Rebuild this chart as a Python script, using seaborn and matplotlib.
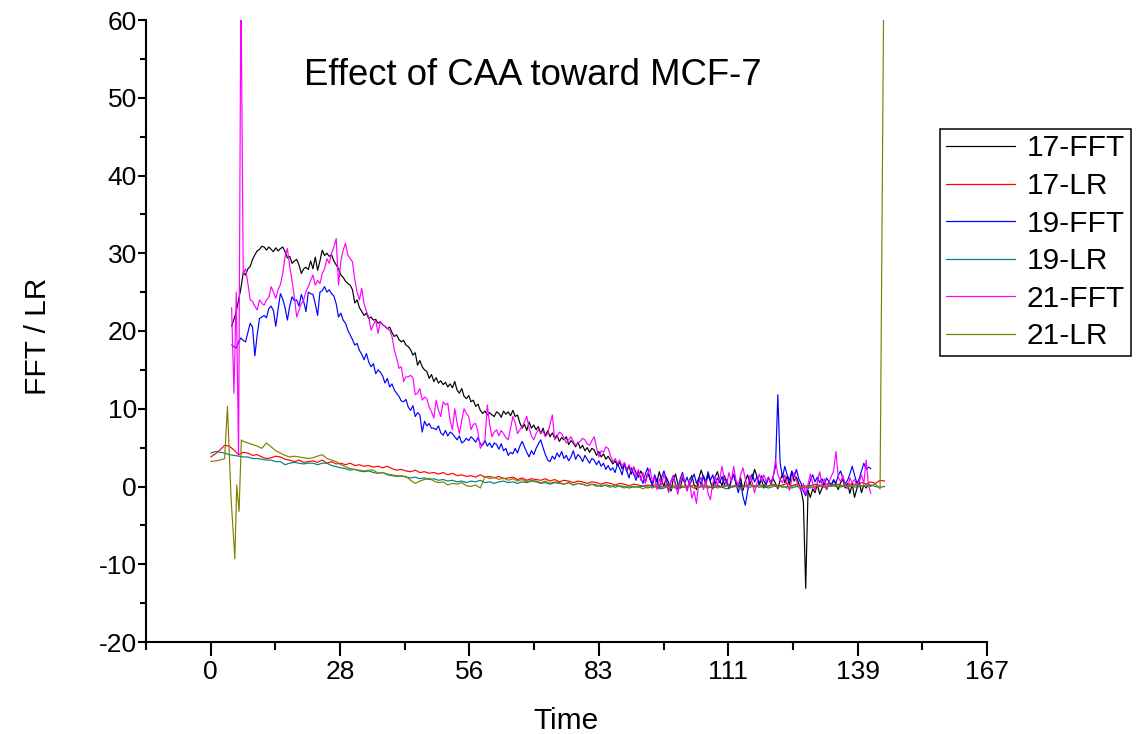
import numpy as np
import pandas as pd
import matplotlib
matplotlib.use("Agg")
import matplotlib.pyplot as plt
from matplotlib.lines import Line2D
import seaborn as sns

# ---------------- data ----------------
series_names = ["17-FFT", "17-LR", "19-FFT", "19-LR", "21-FFT", "21-LR"]
series_colors = ["#000000", "#FF0000", "#0000FF", "#008080", "#FF00FF", "#808000"]

# FFT series sampled every 0.5 time units, starting at 4.5
fft_start = 4.5
fft_step = 0.5

fft17 = [
    20.6, 21.5, 22.5, 24.0, 25.5, 27.5, 27.2, 28.0, 28.3, 29.2, 29.8, 30.3, 30.5, 30.9, 30.8, 30.4, 30.8, 30.5, 30.2, 30.7,
    30.3, 30.6, 30.8, 30.2, 29.4, 29.6, 28.7, 29.0, 29.2, 28.5, 27.4, 28.0, 28.2, 27.9, 29.0, 28.0, 29.5, 27.8, 29.0, 30.4,
    29.7, 30.0, 29.6, 29.8, 29.0, 28.5, 28.0, 27.2, 26.9, 26.4, 26.1, 25.9, 25.3, 23.6, 24.0, 23.0, 22.5, 22.0, 22.3, 21.6,
    21.8, 21.4, 21.5, 21.0, 21.2, 20.8, 20.6, 20.3, 20.5, 19.8, 19.3, 19.5, 18.9, 18.6, 18.8, 18.2, 18.0, 17.6, 16.9, 17.2,
    15.6, 16.2, 15.4, 15.0, 14.8, 13.9, 14.4, 13.5, 14.0, 13.3, 13.6, 13.1, 13.4, 12.8, 13.2, 12.7, 13.5, 12.4, 12.0, 12.6,
    11.6, 11.3, 11.7, 10.9, 11.1, 10.3, 10.6, 9.8, 9.4, 9.7, 9.2, 9.5, 9.2, 9.0, 9.6, 9.4, 8.9, 9.7, 9.3, 9.6,
    9.1, 9.8, 9.0, 9.2, 8.2, 7.5, 8.0, 7.2, 8.3, 7.5, 7.9, 7.3, 7.7, 6.8, 7.5, 6.5, 7.2, 6.4, 6.9, 6.2,
    6.6, 5.8, 6.3, 6.0, 6.4, 5.4, 5.9, 5.6, 5.1, 5.7, 4.9, 5.3, 4.6, 5.0, 4.4, 4.9, 4.7, 4.0, 4.5, 3.8,
    4.2, 3.5, 3.9, 3.4, 2.9, 3.3, 2.7, 3.1, 2.3, 2.8, 2.0, 2.6, 1.6, 2.5, 1.8, 1.2, 2.0, 1.4, 0.6, 1.7,
    1.0, 0.2, 1.3, 0.6, 1.9, 0.8, 0.0, 1.2, 0.5, -0.6, 0.9, 1.6, 0.3, -0.2, 1.1, 0.4, -0.5, 0.8, 1.4, 0.2,
    -0.4, 1.0, 2.1, 1.2, 0.3, 1.5, 0.6, -0.3, 1.2, 1.9, 0.8, 0.1, 1.4, 0.5, -0.2, 0.9, 1.6, 0.4, 0.0, 1.1,
    -0.5, 0.7, 1.5, 0.3, 1.0, 2.2, 1.3, 0.2, 0.9, -0.2, 0.6, 1.2, 0.3, 1.0, 0.4, -0.3, 0.8, 1.6, 0.5, 1.3,
    0.2, 1.9, 0.7, 1.2, 0.4, -0.5, -2.0, -13.1, -0.5, -1.4, -0.3, -0.8, 0.3, -1.0, -0.2, 0.5, -0.4, 0.6, 0.1, 0.8,
    0.3, -0.4, 0.5, 0.9, -0.2, 0.4, -0.9, 0.3, -1.4, -0.3, 0.6, -0.8, 0.2, -0.2, 0.3, 0.0,
]

fft19 = [
    18.2, 18.0, 17.8, 18.6, 19.1, 18.8, 18.6, 19.8, 21.0, 20.5, 16.8, 19.5, 21.6, 21.8, 22.0, 21.7, 22.9, 23.2, 22.6, 20.6,
    22.8, 24.8, 24.1, 23.0, 21.4, 23.2, 24.4, 23.9, 24.0, 23.2, 24.7, 23.8, 22.5, 25.0, 24.8, 24.7, 23.5, 22.0, 25.0, 25.2,
    25.7, 25.0, 25.3, 24.8, 24.5, 23.5, 21.8, 22.3, 21.4, 21.0, 20.1, 19.5, 18.9, 18.2, 18.4, 17.5, 17.0, 16.3, 17.1, 16.0,
    15.4, 15.8, 14.5, 15.0, 14.7, 14.2, 13.3, 13.9, 12.8, 13.2, 12.4, 12.0, 11.6, 11.0, 10.9, 11.2, 10.2, 9.8, 10.4, 9.0,
    9.5, 9.2, 7.0, 8.4, 7.8, 8.1, 7.5, 7.5, 7.3, 7.8, 6.9, 6.6, 7.2, 6.5, 7.0, 6.8, 6.4, 6.0, 6.5, 5.6,
    5.8, 6.2, 5.9, 6.4, 6.1, 5.7, 6.3, 5.5, 5.3, 5.9, 5.2, 5.6, 5.0, 5.6, 5.4, 4.8, 5.5, 4.6, 4.9, 4.0,
    4.4, 4.2, 4.9, 4.3, 5.2, 5.8, 5.1, 4.4, 3.8, 4.6, 4.1, 4.9, 5.5, 6.0, 5.0, 4.1, 3.4, 3.2, 3.9, 3.5,
    4.3, 3.8, 4.5, 3.6, 4.0, 3.3, 3.8, 4.6, 3.5, 4.1, 3.8, 3.2, 4.0, 3.5, 3.0, 3.6, 3.4, 2.8, 3.3, 2.6,
    3.0, 2.2, 2.7, 2.1, 2.4, 1.8, 2.9, 2.3, 1.5, 3.0, 2.0, 1.1, 2.4, 1.6, 0.8, 1.9, 1.2, 0.4, 1.6, 2.4,
    1.0, 0.2, 1.5, 0.7, -0.3, 1.2, 2.0, 0.9, -0.5, 0.6, 1.4, 0.3, -0.4, 1.0, 1.8, 0.5, 1.2, 0.1, 0.9, 1.6,
    0.4, 1.1, 0.2, 1.4, 0.6, 1.9, 0.8, 1.5, 0.3, 1.1, 0.5, 1.3, 0.2, 0.9, -0.3, 0.7, 1.5, 0.4, -0.8, 0.5,
    -1.3, -2.4, -0.6, 0.9, 1.6, 0.6, 1.2, 0.3, 1.4, 0.7, 0.2, 1.1, 0.5, 1.3, 2.5, 11.8, 3.0, 1.2, 2.6, 1.5,
    0.8, 2.0, 1.2, 2.2, 1.0, 0.4, -0.6, -1.2, -0.3, 0.8, 1.5, 0.6, 1.2, 0.5, 1.0, 0.3, 1.1, 0.6, 0.2, 0.9,
    0.4, 1.4, 2.0, 1.1, 0.3, 0.8, 1.6, 2.6, 1.5, 0.4, 1.0, 2.0, 3.0, 2.2, 2.5, 2.3,
]

fft21 = [
    23.0, 12.0, 25.0, 4.0, 65.0, 27.4, 28.0, 26.1, 24.0, 23.8, 23.2, 22.7, 24.0, 23.6, 23.3, 24.0, 24.3, 25.7, 25.0, 24.2,
    25.3, 26.0, 27.4, 29.6, 30.6, 28.3, 26.5, 24.4, 21.8, 22.7, 23.5, 24.0, 25.1, 25.7, 26.5, 27.2, 25.9, 26.5, 26.1, 27.4,
    28.0, 29.3, 28.7, 30.0, 30.8, 31.9, 25.9, 29.0, 30.4, 31.3, 29.8, 29.3, 28.9, 26.6, 25.0, 24.0, 25.5, 23.5, 22.5, 21.8,
    20.1, 20.8, 21.4, 19.7, 21.2, 20.8, 20.6, 20.3, 20.1, 19.3, 17.6, 16.5, 15.2, 15.4, 13.5, 14.1, 14.1, 14.3, 14.0, 11.8,
    12.0, 12.6, 11.1, 11.5, 11.3, 10.2, 9.6, 8.8, 11.1, 9.8, 9.0, 10.9, 10.5, 10.7, 8.5, 7.3, 10.0, 8.2, 6.8, 8.5,
    10.0, 9.4, 9.0, 7.3, 8.0, 8.1, 7.0, 4.9, 5.5, 6.0, 10.5, 8.0, 6.4, 7.0, 7.3, 6.5, 7.2, 6.8, 6.3, 6.0,
    7.5, 9.0, 8.2, 6.8, 7.3, 7.7, 8.3, 9.0, 7.5, 6.5, 6.0, 6.8, 7.3, 6.9, 7.1, 6.4, 6.8, 8.0, 9.2, 6.0,
    6.4, 7.0, 6.8, 6.2, 5.6, 6.0, 6.4, 5.8, 5.3, 5.6, 5.8, 6.2, 6.0, 5.5, 5.3, 5.9, 6.4, 5.0, 3.8, 4.6,
    4.4, 5.1, 4.9, 4.0, 3.2, 3.6, 3.0, 3.4, 2.6, 3.1, 2.2, 2.8, 1.9, 2.5, 1.3, 2.2, 0.8, 1.8, 0.4, 1.5,
    2.3, 0.6, 1.2, -0.4, 1.0, 0.2, 1.6, 0.5, -0.8, 0.7, 1.4, 0.1, -1.0, 0.6, 1.5, 0.3, -0.6, 0.8, -1.5, -0.6,
    -2.2, 0.5, 1.2, -0.4, 0.8, -0.9, -1.7, 0.4, 1.3, 0.2, 1.0, 2.6, 0.9, 0.3, 1.8, 0.6, 2.6, 0.8, 0.2, 1.5,
    2.4, 1.0, -0.3, 1.4, 0.5, -0.8, 0.4, 1.6, 0.7, 1.5, 0.6, 1.2, 0.4, 1.1, 3.4, 1.5, 0.9, 0.5, 1.5, 0.3,
    -0.5, 0.9, 1.8, 0.7, 0.0, -0.6, 0.4, -1.0, 0.3, 1.6, 0.4, -0.5, 0.6, 1.9, 0.2, 1.0, -0.4, 0.5, 1.3, 2.0,
    4.5, 1.2, 0.6, 1.4, 0.2, -0.3, 1.1, 0.5, 0.9, 0.0, 0.6, 1.5, 0.4, 3.4, 0.2, -0.9,
]

# LR series sampled every 1 time unit from 0
lr17 = [
    3.8, 4.2, 4.7, 5.3, 5.2, 4.7, 4.1, 4.4, 4.3, 4.0,
    4.1, 3.8, 3.6, 3.7, 3.9, 3.8, 3.5, 3.4, 3.2, 3.4,
    3.1, 3.2, 3.3, 3.1, 3.4, 3.0, 3.2, 2.9, 3.0, 2.8,
    3.0, 2.7, 2.8, 2.6, 2.7, 2.5, 2.6, 2.4, 2.6, 2.3,
    2.1, 2.2, 2.0, 1.9, 2.1, 1.8, 1.9, 1.7, 1.8, 1.6,
    1.8, 1.5, 1.7, 1.4, 1.5, 1.3, 1.4, 1.2, 1.5, 1.2,
    1.3, 1.1, 1.3, 1.0, 1.1, 1.2, 0.9, 1.1, 0.8, 1.0,
    0.9, 0.8, 1.0, 0.7, 0.9, 0.6, 0.8, 0.7, 0.5, 0.7,
    0.6, 0.4, 0.6, 0.5, 0.3, 0.5, 0.4, 0.2, 0.4, 0.3,
    0.1, 0.3, 0.2, 0.0, 0.2, 0.1, 0.3, -0.1, 0.2, 0.0,
    0.1, -0.2, 0.1, 0.0, 0.2, -0.1, 0.1, -0.2, 0.0, 0.2,
    -0.1, 0.1, 0.0, 0.2, -0.1, 0.1, 0.3, 0.0, 0.2, -0.1,
    0.1, 0.3, 0.0, 0.2, 0.4, 0.1, 0.3, 0.0, -0.2, 0.1,
    0.3, 0.0, 0.2, 0.4, 0.1, 0.3, 0.0, 0.2, 0.4, 0.1,
    0.5, 0.3, 0.6, 0.4, 0.8, 0.7,
]

lr19 = [
    4.3, 4.5, 4.4, 4.3, 4.1, 4.0, 3.9, 3.8, 3.8, 3.6,
    3.6, 3.5, 3.4, 3.4, 3.2, 3.2, 2.8, 3.0, 3.1, 3.0,
    2.9, 3.0, 3.0, 2.8, 3.0, 3.0, 2.7, 2.55, 2.4, 2.3,
    2.1, 2.2, 2.0, 1.9, 2.0, 1.8, 1.7, 1.8, 1.5, 1.4,
    1.3, 1.4, 1.2, 1.1, 1.2, 1.0, 1.1, 0.9, 1.0, 0.8,
    0.9, 0.7, 0.8, 0.6, 0.7, 0.5, 0.7, 0.6, 0.8, 0.5,
    0.6, 0.4, 0.6, 0.7, 0.5, 0.6, 0.4, 0.6, 0.5, 0.7,
    0.6, 0.4, 0.5, 0.3, 0.5, 0.4, 0.3, 0.5, 0.2, 0.4,
    0.3, 0.1, 0.3, 0.2, 0.0, 0.2, 0.1, -0.1, 0.1, 0.0,
    -0.2, 0.0, -0.1, 0.1, -0.2, 0.0, -0.1, -0.3, -0.1, 0.0,
    -0.2, 0.0, -0.1, 0.1, -0.2, 0.0, -0.1, 0.1, -0.2, 0.0,
    -0.1, -0.3, -0.1, 0.0, -0.2, 0.0, -0.1, 0.1, -0.1, 0.0,
    -0.2, 0.0, 0.1, -0.1, 0.0, -0.2, 0.0, -0.1, 0.1, -0.1,
    0.0, 0.2, -0.1, 0.0, 0.1, -0.1, 0.0, 0.2, 0.0, -0.1,
    0.1, 0.0, 0.2, 0.0, -0.1, 0.0,
]

# 21-LR has irregular early samples and an end spike
lr21_time_early = [0, 1, 2, 3, 3.6, 4.4, 5.2, 5.6, 6.1, 6.6]
lr21_early = [3.2, 3.3, 3.4, 3.6, 10.3, -1.7, -9.3, 0.2, -3.2, 6.0]
lr21_time_end = [144.8]
lr21_end = [65.0]
lr21_mid = [  # t = 7 .. 144
    5.8, 5.6, 5.4, 5.2, 4.9, 5.6, 5.1, 4.6, 4.3, 4.0,
    3.8, 3.9, 3.8, 3.7, 3.6, 3.7, 3.9, 4.1, 3.6, 3.4,
    3.2, 2.8, 2.55, 2.3, 2.2, 2.1, 2.0, 2.1, 2.1, 1.7,
    1.8, 1.6, 1.5, 1.4, 1.3, 1.3, 0.8, 0.4, 0.7, 0.9,
    1.05, 0.7, 0.5, 0.6, 0.2, 0.4, 0.3, 0.5, 0.1, 0.0,
    0.2, -0.2, 1.3, 1.0, 1.2, 0.9, 1.1, 0.8, 1.0, 0.7,
    0.9, 0.6, 0.8, 0.7, 0.5, 0.7, 0.4, 0.6, 0.5, 0.3,
    0.5, 0.2, 0.4, 0.3, 0.1, 0.3, 0.0, 0.2, 0.1, -0.1,
    0.2, 0.0, -0.2, 0.1, -0.1, 0.0, -0.3, 0.0, -0.2, 0.1,
    -0.1, 0.0, -0.3, 0.0, 0.2, -0.1, 0.1, -0.2, 0.0, 0.2,
    -0.1, 0.1, -0.2, 0.0, 0.2, -0.1, 0.1, -0.3, 0.0, 0.2,
    -0.1, 0.1, 0.3, 0.0, 0.2, -0.1, 0.1, -0.2, 0.0, 0.2,
    -0.1, 0.1, -0.2, 0.0, 0.2, -0.1, 0.1, 0.3, 0.0, 0.2,
    -0.1, 0.1, 0.3, 0.0, 0.2, 0.1, 0.3, -0.3,
]

x_tick_values = [0, 167 / 6, 2 * 167 / 6, 3 * 167 / 6, 4 * 167 / 6, 5 * 167 / 6, 167]
x_tick_labels = ["0", "28", "56", "83", "111", "139", "167"]
y_tick_values = [-20, -10, 0, 10, 20, 30, 40, 50, 60]
y_tick_labels = ["-20", "-10", "0", "10", "20", "30", "40", "50", "60"]
title_text = "Effect of CAA toward MCF-7"
x_label = "Time"
y_label = "FFT / LR"

# ---------------- build long table ----------------
def fft_times(vals):
    return fft_start + fft_step * np.arange(len(vals))

lr21_t = np.concatenate([lr21_time_early, 7 + np.arange(len(lr21_mid)), lr21_time_end])
lr21 = lr21_early + lr21_mid + lr21_end

frames = []
for name, t, v in [
    ("17-FFT", fft_times(fft17), fft17),
    ("17-LR", np.arange(len(lr17)), lr17),
    ("19-FFT", fft_times(fft19), fft19),
    ("19-LR", np.arange(len(lr19)), lr19),
    ("21-FFT", fft_times(fft21), fft21),
    ("21-LR", lr21_t, lr21),
]:
    frames.append(pd.DataFrame({"Time": t, "value": v, "series": name}))
df = pd.concat(frames, ignore_index=True)

# ---------------- figure ----------------
sns.set_style("ticks")
plt.rcParams["font.family"] = ["Liberation Sans", "DejaVu Sans"]
plt.rcParams["axes.unicode_minus"] = False
for key in ["text.color", "axes.labelcolor", "xtick.color", "ytick.color", "axes.edgecolor"]:
    plt.rcParams[key] = "black"

W, H = 1136, 734
fig = plt.figure(figsize=(W / 100, H / 100), dpi=100)
ax_l, ax_r, ax_t, ax_b = 146, 987, 20, 642
ax = fig.add_axes([ax_l / W, 1 - ax_b / H, (ax_r - ax_l) / W, (ax_b - ax_t) / H])

palette = dict(zip(series_names, series_colors))
sns.lineplot(data=df, x="Time", y="value", hue="series", hue_order=series_names,
             palette=palette, estimator=None, errorbar=None, sort=False,
             linewidth=0.85, legend=False, ax=ax)

ax.set_xlim(-167 / 12, 167)
ax.set_ylim(-20, 60)
ax.set_xticks(x_tick_values)
ax.set_xticklabels(x_tick_labels)
ax.set_xticks([v + 167 / 12 for v in x_tick_values[:-1]] + [-167 / 12], minor=True)
ax.set_yticks(y_tick_values)
ax.set_yticklabels(y_tick_labels)
ax.set_yticks(np.arange(-15, 60, 10), minor=True)

for s in ["top", "right"]:
    ax.spines[s].set_visible(False)
for s in ["left", "bottom"]:
    ax.spines[s].set_linewidth(1.5)
    ax.spines[s].set_color("black")

ax.tick_params(axis="x", which="major", direction="out", length=10, width=1.5,
               labelsize=19, pad=3, colors="black")
ax.tick_params(axis="x", which="minor", direction="out", length=5.5, width=1.5, colors="black")
ax.tick_params(axis="y", which="major", direction="out", length=6, width=1.5,
               labelsize=19, pad=0.5, colors="black")
ax.tick_params(axis="y", which="minor", direction="out", length=4, width=1.5, colors="black")

ax.set_xlabel(x_label, fontsize=21.5)
ax.set_ylabel(y_label, fontsize=21.5)
ax.xaxis.set_label_coords(0.5, (ax_b - 707) / (ax_b - ax_t))
ax.yaxis.set_label_coords((52 - ax_l) / (ax_r - ax_l), 0.5 - 5 / (ax_b - ax_t))

ax.text((533 - ax_l) / (ax_r - ax_l), (ax_b - 85) / (ax_b - ax_t), title_text,
        transform=ax.transAxes, ha="center", va="baseline", fontsize=26.3)

handles = [Line2D([0], [0], color=c, lw=0.9) for c in series_colors]
leg = ax.legend(handles, series_names, loc="upper left",
                bbox_to_anchor=(940 / W, 1 - 128.5 / H), bbox_transform=fig.transFigure,
                borderaxespad=0, fontsize=21.5, frameon=True, fancybox=False,
                handlelength=2.3, handletextpad=0.4, borderpad=0.2, labelspacing=0.32)
leg.get_frame().set_edgecolor("black")
leg.get_frame().set_linewidth(1.1)
leg.get_frame().set_alpha(1)

fig.savefig("out.png", dpi=100)
